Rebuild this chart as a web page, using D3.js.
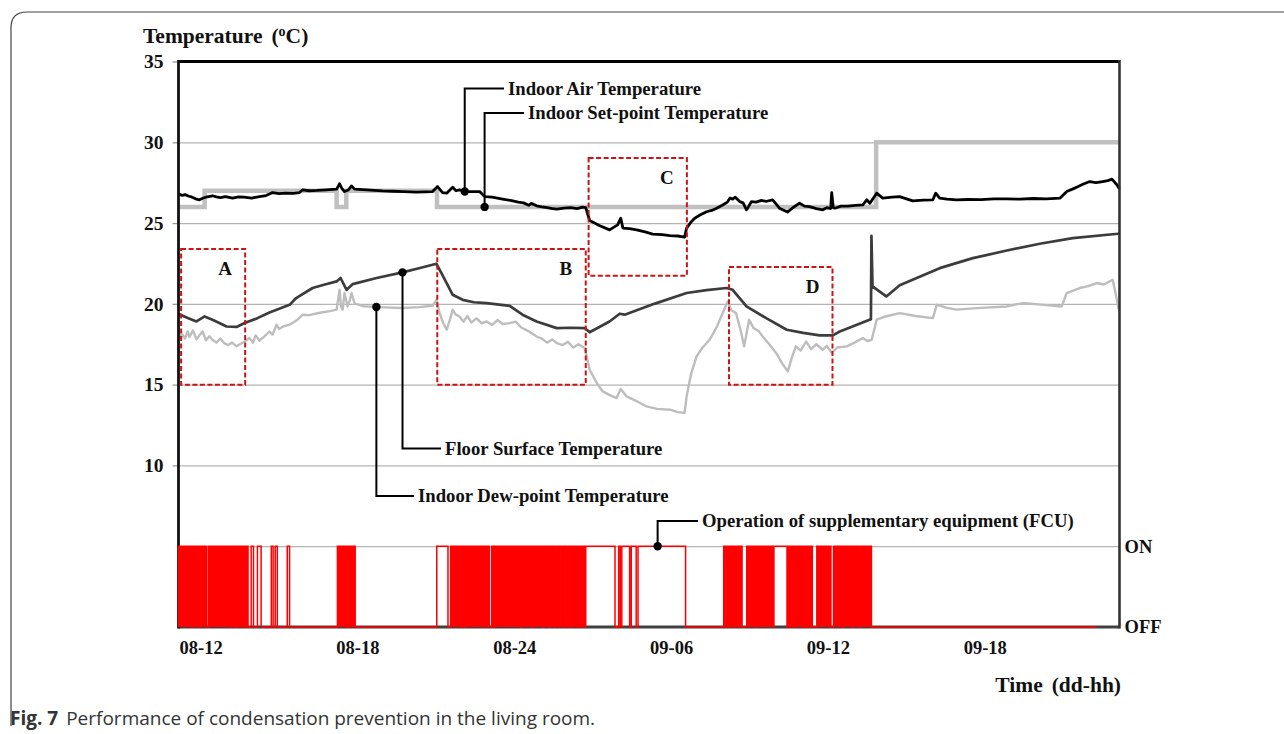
<!DOCTYPE html>
<html><head><meta charset="utf-8">
<script src="https://cdn.jsdelivr.net/npm/d3@7"></script>
<style>
body{margin:0;background:#fff}
svg text{font-family:"Liberation Serif","Times New Roman",serif;font-weight:bold;fill:#111}
</style>
</head><body>
<svg id="chart" width="1284" height="734"></svg>
<script>
// ---------- DATA (hours since day 08 00:00, °C) ----------
const timeTicks = [12, 18, 24, 30, 36, 42];
const timeTickLabels = ["08-12", "08-18", "08-24", "09-06", "09-12", "09-18"];
const tempTicks = [10, 15, 20, 25, 30, 35];
const gridValues = [5, 10, 15, 20, 25, 30];

const airTemp = [[12.00,26.79],[12.15,26.72],[12.25,26.76],[12.40,26.66],[12.50,26.62],[12.65,26.50],[12.80,26.44],[12.95,26.55],[13.05,26.60],[13.30,26.69],[13.45,26.62],[13.60,26.58],[13.80,26.64],[14.07,26.54],[14.30,26.62],[14.50,26.60],[14.80,26.55],[15.10,26.64],[15.35,26.70],[15.60,26.89],[15.85,26.82],[16.10,26.85],[16.40,26.84],[16.63,26.89],[16.75,27.06],[17.00,27.00],[17.30,27.02],[17.65,27.06],[18.05,27.10],[18.16,27.43],[18.25,27.15],[18.35,26.95],[18.50,27.05],[18.62,27.30],[18.74,27.10],[19.20,27.05],[19.50,27.02],[19.81,26.99],[20.20,26.97],[20.60,26.95],[21.10,26.92],[21.72,26.95],[21.91,27.26],[22.10,26.89],[22.26,26.85],[22.49,27.22],[22.62,27.00],[22.75,27.06],[22.95,26.95],[23.52,26.95],[23.71,26.64],[24.00,26.60],[24.40,26.48],[24.70,26.40],[25.00,26.30],[25.20,26.25],[25.40,26.10],[25.50,26.22],[25.70,26.07],[25.90,26.00],[26.10,25.95],[26.30,25.90],[26.47,25.86],[26.75,25.92],[27.00,25.95],[27.25,25.90],[27.46,25.98],[27.58,25.95],[27.73,25.16],[28.10,24.85],[28.49,24.58],[28.80,24.89],[28.92,25.30],[29.00,24.69],[29.25,24.65],[29.53,24.58],[29.85,24.45],[30.14,24.32],[30.50,24.28],[30.80,24.22],[31.10,24.20],[31.36,24.13],[31.44,24.69],[31.60,25.05],[31.75,25.30],[31.95,25.50],[32.20,25.70],[32.40,25.78],[32.59,25.92],[32.80,26.10],[33.00,26.30],[33.10,26.55],[33.20,26.48],[33.30,26.60],[33.47,26.33],[33.60,26.25],[33.73,25.82],[33.80,26.00],[33.92,26.33],[34.10,26.30],[34.30,26.40],[34.50,26.35],[34.73,26.44],[34.85,26.20],[34.99,25.92],[35.15,25.80],[35.30,25.68],[35.50,25.95],[35.76,26.23],[35.95,26.05],[36.14,26.02],[36.40,25.90],[36.65,25.82],[36.80,25.95],[36.95,25.90],[36.99,26.89],[37.05,25.95],[37.11,25.92],[37.35,26.05],[37.60,26.05],[37.90,26.10],[38.18,26.13],[38.33,26.44],[38.45,26.23],[38.71,26.85],[38.94,26.54],[39.30,26.60],[39.59,26.64],[39.85,26.50],[40.09,26.37],[40.50,26.42],[40.86,26.44],[40.97,26.85],[41.12,26.54],[41.40,26.48],[41.77,26.44],[42.20,26.46],[42.70,26.45],[43.20,26.50],[43.69,26.50],[44.20,26.48],[44.70,26.52],[45.20,26.50],[45.72,26.54],[45.98,26.95],[46.20,27.10],[46.40,27.25],[46.60,27.40],[46.86,27.57],[47.10,27.50],[47.36,27.57],[47.55,27.62],[47.71,27.72],[47.90,27.37],[48.00,27.10]];

const setPoint = [[12.00,26],[13.00,27],[18.05,26],[18.42,27],[21.89,26],[38.69,30],[48.00,30]];

const floorTemp = [[12.00,19.37],[12.40,19.10],[12.69,18.91],[13.00,19.22],[13.30,19.02],[13.84,18.60],[14.22,18.57],[14.53,18.81],[15.00,19.10],[15.48,19.47],[16.25,19.94],[16.50,20.36],[17.13,20.98],[17.60,21.20],[18.05,21.39],[18.20,21.60],[18.43,20.87],[18.66,21.22],[19.58,21.60],[20.57,21.95],[21.20,22.20],[21.87,22.48],[22.06,21.90],[22.49,20.56],[22.87,20.25],[23.30,20.10],[23.79,20.05],[24.67,19.88],[25.16,19.33],[25.70,18.91],[26.47,18.50],[27.00,18.52],[27.54,18.50],[27.73,18.24],[28.49,18.91],[28.88,19.39],[29.07,19.33],[30.20,20.00],[31.44,20.67],[32.20,20.85],[32.97,20.98],[33.20,20.87],[33.73,19.84],[34.50,19.10],[35.27,18.40],[35.90,18.20],[36.53,18.05],[37.03,18.05],[37.30,18.29],[38.44,19.02],[38.49,19.05],[38.51,24.21],[38.55,21.08],[39.08,20.46],[39.59,21.15],[41.12,22.21],[42.39,22.83],[43.69,23.30],[44.95,23.72],[46.21,24.07],[47.94,24.34],[48.00,24.36]];

const dewPoint = [[12.00,18.40],[12.08,17.90],[12.15,18.10],[12.25,17.85],[12.35,18.30],[12.42,17.95],[12.55,18.35],[12.69,17.80],[12.80,18.05],[12.92,18.29],[13.05,17.75],[13.18,18.00],[13.30,17.78],[13.45,17.60],[13.60,17.85],[13.76,17.55],[13.90,17.45],[14.05,17.60],[14.22,17.37],[14.35,17.50],[14.53,17.67],[14.72,17.88],[14.85,17.60],[14.95,18.05],[15.10,17.72],[15.30,18.00],[15.48,18.29],[15.60,18.10],[15.75,18.71],[15.85,18.45],[16.00,18.60],[16.25,18.71],[16.50,18.95],[16.75,19.33],[17.00,19.30],[17.40,19.45],[17.80,19.55],[18.05,19.64],[18.16,20.87],[18.22,19.80],[18.28,19.64],[18.35,20.67],[18.47,19.84],[18.55,20.20],[18.62,20.67],[18.74,20.01],[19.10,19.85],[19.58,19.80],[20.57,19.74],[21.20,19.80],[21.72,19.88],[21.87,20.25],[21.99,19.43],[22.13,18.80],[22.26,18.40],[22.40,19.10],[22.49,19.64],[22.60,19.35],[22.75,19.22],[22.90,18.90],[23.05,19.25],[23.20,18.85],[23.40,19.10],[23.60,18.80],[23.79,18.91],[24.00,18.70],[24.20,19.00],[24.40,18.75],[24.67,18.81],[24.90,18.90],[25.10,18.55],[25.40,18.30],[25.70,17.98],[25.90,17.85],[26.10,17.60],[26.30,17.80],[26.47,17.57],[26.70,17.45],[26.90,17.65],[27.10,17.30],[27.30,17.50],[27.54,17.27],[27.73,15.92],[28.00,15.10],[28.23,14.58],[28.50,14.35],[28.76,14.17],[28.92,14.73],[29.14,14.27],[29.50,14.00],[29.91,13.65],[30.30,13.50],[30.80,13.45],[31.10,13.30],[31.36,13.25],[31.44,14.27],[31.60,15.60],[31.82,16.75],[32.05,17.30],[32.32,17.78],[32.60,18.60],[32.82,19.43],[33.01,20.15],[33.15,19.60],[33.33,19.43],[33.50,18.40],[33.64,17.37],[33.83,19.02],[34.00,18.50],[34.20,18.30],[34.35,17.98],[34.60,17.50],[34.86,16.96],[35.10,16.30],[35.31,15.82],[35.45,16.60],[35.62,17.37],[35.80,17.10],[36.01,17.67],[36.20,17.20],[36.40,17.50],[36.65,17.16],[36.80,17.40],[36.99,16.96],[37.20,17.30],[37.57,17.37],[37.80,17.55],[38.18,17.88],[38.35,17.70],[38.52,17.78],[38.71,19.02],[39.00,19.20],[39.59,19.43],[40.20,19.25],[40.86,19.12],[41.01,19.94],[41.40,19.75],[41.77,19.64],[42.70,19.75],[43.69,19.84],[44.30,20.05],[45.00,19.95],[45.79,19.84],[45.98,20.67],[46.48,20.98],[46.80,21.10],[47.13,21.29],[47.40,21.20],[47.74,21.49],[47.90,20.25],[47.97,19.64]];

// FCU: single ON periods (hours) and rapid ON/OFF cycling bursts (hours)
const fcuOn = [[14.78,14.87],[15.02,15.16],[15.55,15.62],[15.70,15.78],[16.16,16.25],[21.88,22.31],[27.58,28.70],[28.84,28.90],[28.96,29.26],[29.32,29.51],[29.58,31.40],[34.78,35.28]];
const fcuBursts = [[12.00,12.50],[12.55,12.78],[12.83,13.08],[13.15,13.97],[14.01,14.12],[14.16,14.24],[14.28,14.43],[14.47,14.57],[14.61,14.66],
  [18.08,18.40],[18.44,18.52],[18.56,18.76],
  [22.41,22.80],[22.84,22.93],[22.97,23.63],[23.67,23.89],[23.98,24.07],[24.11,25.09],[25.13,25.54],[25.58,25.92],[25.96,26.18],[26.22,26.37],[26.41,26.56],[26.60,26.75],[26.79,26.94],[26.98,27.07],[27.11,27.26],[27.30,27.39],[27.43,27.54],
  [32.86,32.94],[32.98,33.06],[33.10,33.24],[33.28,33.40],[33.44,33.56],[33.74,34.08],[34.12,34.74],
  [35.32,35.38],[35.42,35.49],[35.53,35.62],[35.66,35.87],[35.91,36.00],[36.04,36.13],[36.17,36.25],[36.42,36.96],[37.06,37.40],[37.44,37.79],[37.83,38.04],[38.08,38.51]];
const fcuEnd = 47.13;
const fcuLevels = {off: 0, on: 5};

// Highlighted periods A-D: [start h, end h, low °C, high °C]
const boxNames = ["A", "B", "C", "D"];
const boxRanges = [[12.10,14.55,15.0,23.4],[21.90,27.58,15.0,23.4],[27.69,31.45,21.74,29.02],[33.06,37.02,15.0,22.28]];

// ---------- CHART ----------
const svg = d3.select("#chart");
svg.append("rect").attr("width",1284).attr("height",734).attr("fill","#fff");

const L = 178.5, R = 1119.5, T = 61.5, B = 627;
const x = d3.scaleLinear().domain([12, 48]).range([L, R]);
const y = d3.scaleLinear().domain([0, 35]).range([B, T]);

// figure frame
svg.append("path")
  .attr("d", "M11,726 L11,28 Q11,12 27,12 L1290,12")
  .attr("fill","none").attr("stroke","#444").attr("stroke-width",1.2);

// gridlines
const grid = svg.append("g").attr("transform",`translate(${L},0)`)
  .call(d3.axisLeft(y).tickValues(gridValues).tickSize(-(R-L)).tickFormat(""));
grid.select(".domain").remove();
grid.selectAll("line").attr("stroke","#b4b4b4").attr("stroke-width",1.3);

// left ticks + labels
const yAx = svg.append("g").attr("transform",`translate(${L},0)`)
  .call(d3.axisLeft(y).tickValues(tempTicks).tickSize(6).tickPadding(9));
yAx.select(".domain").remove();
yAx.selectAll("line").attr("stroke","#999").attr("stroke-width",1.3);
yAx.selectAll("text").style("font-size","19.5px").attr("fill","#111");

// x labels
const xAx = svg.append("g").attr("transform",`translate(0,${B})`)
  .call(d3.axisBottom(x).tickValues(timeTicks).tickSize(0).tickPadding(14)
    .tickFormat((d,i)=>timeTickLabels[i]));
xAx.select(".domain").remove();
xAx.selectAll("text").attr("text-anchor","start").attr("dx","0.5").style("font-size","18.5px").attr("fill","#111");

// series
const line = d3.line().x(d=>x(d[0])).y(d=>y(d[1]));
svg.append("path").datum(dewPoint).attr("d",line).attr("fill","none")
  .attr("stroke","#bdbdbd").attr("stroke-width",2.4).attr("stroke-linejoin","round");
svg.append("path").datum(setPoint).attr("d",line.curve(d3.curveStepAfter)).attr("fill","none")
  .attr("stroke","#c0c0c0").attr("stroke-width",4.5);
line.curve(d3.curveLinear);
svg.append("path").datum(floorTemp).attr("d",line).attr("fill","none")
  .attr("stroke","#3c3c3c").attr("stroke-width",2.7).attr("stroke-linejoin","round");
svg.append("path").datum(airTemp).attr("d",line).attr("fill","none")
  .attr("stroke","#000").attr("stroke-width",2.8).attr("stroke-linejoin","round");

// plot border
svg.append("line").attr("x1",L).attr("x2",R).attr("y1",B).attr("y2",B).attr("stroke","#404040").attr("stroke-width",3);
svg.append("line").attr("x1",L).attr("x2",R).attr("y1",T).attr("y2",T).attr("stroke","#000").attr("stroke-width",2.8);
svg.append("line").attr("x1",L).attr("x2",L).attr("y1",T-1.4).attr("y2",B+1.5).attr("stroke","#111").attr("stroke-width",2.8);
svg.append("line").attr("x1",R).attr("x2",R).attr("y1",T-1.4).attr("y2",B+1.5).attr("stroke","#333").attr("stroke-width",2.6);

// FCU operation
const allOn = fcuOn.concat(fcuBursts).sort((a,b)=>a[0]-b[0]);
const stepPts = [[12, fcuLevels.off]];
allOn.forEach(([s,e])=>{ stepPts.push([s,fcuLevels.off],[s,fcuLevels.on],[e,fcuLevels.on],[e,fcuLevels.off]); });
stepPts.push([fcuEnd, fcuLevels.off]);
svg.selectAll("rect.burst").data(fcuBursts).join("rect").attr("class","burst")
  .attr("x",d=>x(d[0])).attr("width",d=>x(d[1])-x(d[0]))
  .attr("y",y(fcuLevels.on)).attr("height",y(fcuLevels.off)-y(fcuLevels.on))
  .attr("fill","#ff0000");
svg.append("path").datum(stepPts).attr("d",d3.line().x(d=>x(d[0])).y(d=>y(d[1])))
  .attr("fill","none").attr("stroke","#ff0000").attr("stroke-width",1.5);

// dashed boxes
const boxes = svg.append("g");
boxRanges.forEach((b,i)=>{
  boxes.append("rect").attr("x",x(b[0])).attr("y",y(b[3])).attr("width",x(b[1])-x(b[0])).attr("height",y(b[2])-y(b[3]))
    .attr("fill","none").attr("stroke","#cc1414").attr("stroke-width",2).attr("stroke-dasharray","5,2.5");
  boxes.append("text").attr("x",x(b[1])-20).attr("y",y(b[3])+19).attr("dy","0.35em")
    .attr("text-anchor","middle").style("font-size","19px").text(boxNames[i]);
});

// callouts
function valAt(series, h){ const i=d3.bisector(d=>d[0]).left(series,h); if(i<=0) return series[0][1]; if(i>=series.length) return series[series.length-1][1];
  const a=series[i-1], b=series[i]; return a[1]+(b[1]-a[1])*(h-a[0])/(b[0]-a[0]); }
const callouts = [
  {h:22.95, v:valAt(airTemp,22.95), ey:88.5, ex:504, label:"Indoor Air Temperature"},
  {h:23.71, v:26, ey:113, ex:524, label:"Indoor Set-point Temperature"},
  {h:20.57, v:valAt(floorTemp,20.57), ey:448.5, ex:441, label:"Floor Surface Temperature"},
  {h:19.57, v:valAt(dewPoint,19.57), ey:496, ex:414, label:"Indoor Dew-point Temperature"},
  {h:30.33, v:fcuLevels.on, ey:521, ex:698, label:"Operation of supplementary equipment (FCU)"}
];
const cg = svg.append("g");
callouts.forEach(c=>{
  const px=x(c.h), py=y(c.v);
  cg.append("path").attr("d",`M${px},${py} L${px},${c.ey} L${c.ex},${c.ey}`).attr("fill","none").attr("stroke","#000").attr("stroke-width",2);
  cg.append("circle").attr("cx",px).attr("cy",py).attr("r",4.2).attr("fill","#000");
  cg.append("text").attr("x",c.ex+4).attr("y",c.ey).attr("dy","0.34em").style("font-size","18.7px").text(c.label);
});

// ON / OFF labels
svg.append("text").attr("x",R+5).attr("y",y(fcuLevels.on)).attr("dy","0.35em").style("font-size","18.5px").text("ON");
svg.append("text").attr("x",R+5).attr("y",y(fcuLevels.off)).attr("dy","0.35em").style("font-size","18.5px").text("OFF");

// axis titles
const yt = svg.append("text").attr("x",143).attr("y",43).style("font-size","21.5px");
yt.append("tspan").text("Temperature");
yt.append("tspan").attr("dx",9).text("(");
yt.append("tspan").attr("dy",-7).style("font-size","14px").text("o");
yt.append("tspan").attr("dy",7).text("C)");
const xt = svg.append("text").attr("x",1121).attr("y",692).attr("text-anchor","end").style("font-size","21.5px");
xt.append("tspan").text("Time");
xt.append("tspan").attr("dx",9).text("(dd-hh)");

// caption
const cap = svg.append("text").attr("x",10).attr("y",725).style("font-family","'Open Sans',sans-serif").style("font-weight","normal").style("font-size","19px").attr("fill","#333");
cap.append("tspan").style("font-weight","bold").attr("fill","#333").text("Fig. 7");
cap.append("tspan").attr("dx",8).style("font-weight","normal").attr("fill","#333").text("Performance of condensation prevention in the living room.");
</script>
</body></html>
